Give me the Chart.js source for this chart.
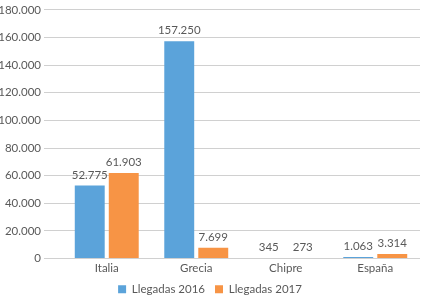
<!DOCTYPE html>
<html>
<head>
<meta charset="utf-8">
<script src="https://cdn.jsdelivr.net/npm/chart.js@4"></script>
<style>
  html, body { margin: 0; padding: 0; background: #fff; }
  #wrap { width: 421px; height: 295px; }
</style>
</head>
<body>
<div id="wrap"><canvas id="chart" width="421" height="295"></canvas></div>
<script>
const categories = ['Italia', 'Grecia', 'Chipre', 'España'];
const llegadas2016 = [52775, 157250, 345, 1063];
const llegadas2017 = [61903, 7699, 273, 3314];
const seriesLabels = ['Llegadas 2016', 'Llegadas 2017'];

const fmt = v => String(v).replace(/\B(?=(\d{3})+(?!\d))/g, '.');

// draw the value above each bar
const valueLabels = {
    id: 'valueLabels',
    afterDatasetsDraw(chart) {
        const ctx = chart.ctx;
        ctx.save();
        ctx.font = '11.5px Lato';
        ctx.fillStyle = '#595959';
        ctx.textAlign = 'center';
        ctx.textBaseline = 'bottom';
        chart.data.datasets.forEach((ds, i) => {
            chart.getDatasetMeta(i).data.forEach((bar, j) => {
                ctx.fillText(fmt(ds.data[j]), bar.x, bar.y - 5);
            });
        });
        ctx.restore();
    }
};

new Chart(document.getElementById('chart'), {
    type: 'bar',
    data: {
        labels: categories,
        datasets: [
            { label: seriesLabels[0], data: llegadas2016, backgroundColor: '#5BA3DA' },
            { label: seriesLabels[1], data: llegadas2017, backgroundColor: '#F79445' }
        ]
    },
    options: {
        responsive: false,
        animation: false,
        devicePixelRatio: 1,
        layout: { padding: { top: 3, right: 1, left: 0, bottom: -10 } },
        datasets: {
            bar: { categoryPercentage: 0.76, barPercentage: 0.88 }
        },
        plugins: {
            legend: {
                position: 'bottom',
                labels: {
                    boxWidth: 8, boxHeight: 8, padding: 10,
                    color: '#595959',
                    font: { family: 'Lato', size: 11.5 }
                }
            },
            tooltip: { enabled: false }
        },
        scales: {
            x: {
                afterFit: s => { s.height = 15; },
                grid: { display: false, drawTicks: false },
                border: { display: false },
                ticks: { color: '#595959', font: { family: 'Lato', size: 11.5 }, padding: 3 }
            },
            y: {
                min: 0,
                max: 180000,
                afterFit: s => { s.width = 62; },
                border: { display: false },
                grid: { color: '#D0D0D0', tickLength: 18, lineWidth: 1 },
                ticks: {
                    stepSize: 20000,
                    padding: 3,
                    color: '#595959',
                    font: { family: 'Lato', size: 11.5 },
                    callback: v => fmt(v)
                }
            }
        }
    },
    plugins: [valueLabels]
});
</script>
</body>
</html>
